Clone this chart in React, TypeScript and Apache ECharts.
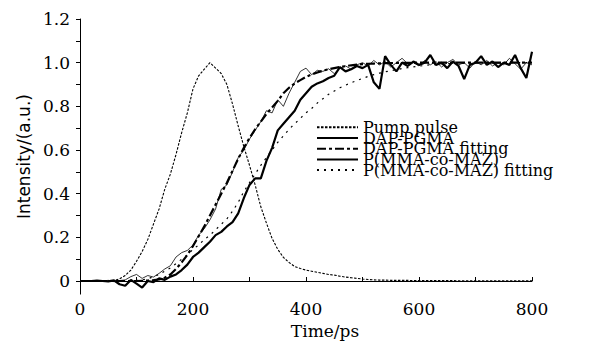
import { useEffect, useRef } from 'react';
import * as echarts from 'echarts';

const times = [
  0, 10, 20, 30, 40, 50, 60, 70, 80, 90,
  100, 110, 120, 130, 140, 150, 160, 170, 180, 190,
  200, 210, 220, 230, 240, 250, 260, 270, 280, 290,
  300, 310, 320, 330, 340, 350, 360, 370, 380, 390,
  400, 410, 420, 430, 440, 450, 460, 470, 480, 490,
  500, 510, 520, 530, 540, 550, 560, 570, 580, 590,
  600, 610, 620, 630, 640, 650, 660, 670, 680, 690,
  700, 710, 720, 730, 740, 750, 760, 770, 780, 790,
  800,
];

const pumpPulse = [
  0, 0, 0, 0, 0, 0, 0.002, 0.01, 0.025, 0.05,
  0.09, 0.135, 0.19, 0.26, 0.33, 0.42, 0.49, 0.58, 0.68, 0.77,
  0.88, 0.94, 0.97, 1.0, 0.975, 0.95, 0.9, 0.81, 0.71, 0.615,
  0.53, 0.44, 0.34, 0.265, 0.195, 0.145, 0.108, 0.085, 0.066, 0.057,
  0.05, 0.045, 0.04, 0.035, 0.03, 0.027, 0.022, 0.018, 0.015, 0.012,
  0.009, 0.007, 0.005, 0.004, 0.004, 0.003, 0.003, 0.003, 0.003, 0.002,
  0.002, 0.002, 0.002, 0.002, 0.002, 0.002, 0.002, 0.001, 0.001, 0.001,
  0.001, 0.001, 0.001, 0.001, 0.001, 0.001, 0.001, 0.001, 0.001, 0.001,
  0.001,
];

const dapPgma = [
  0, 0, 0.002, -0.002, 0, 0.003, -0.003, 0.002, 0.005, 0.02,
  0.03, 0.012, 0.025, 0.018, 0.035, 0.055, 0.07, 0.11, 0.13, 0.14,
  0.165, 0.21, 0.24, 0.28, 0.33, 0.42, 0.44, 0.5, 0.565, 0.6,
  0.65, 0.69, 0.73, 0.78, 0.77, 0.83, 0.8, 0.86, 0.91, 0.96,
  0.975, 0.945, 0.965, 0.96, 0.972, 0.95, 0.975, 0.985, 0.97, 0.99,
  1.0, 0.985, 1.01, 0.99, 1.005, 0.98, 1.0, 1.02, 0.995, 1.0,
  0.985, 1.01, 0.99, 1.005, 0.98, 1.0, 1.015, 0.99, 1.0, 0.975,
  1.005, 0.99, 1.01, 0.985, 1.0, 0.99, 1.02, 0.995, 0.97, 1.0,
  0.99,
];

const dapPgmaFit = [
  0, 0, 0, 0, 0, 0, 0, 0, 0, 0,
  0, 0.001, 0.002, 0.004, 0.007, 0.015, 0.03, 0.055, 0.085, 0.12,
  0.16, 0.205, 0.25, 0.3, 0.35, 0.4, 0.45, 0.505, 0.56, 0.61,
  0.655, 0.695, 0.73, 0.765, 0.795, 0.825, 0.86, 0.885, 0.905, 0.92,
  0.935, 0.946, 0.955, 0.963, 0.97, 0.975, 0.98, 0.984, 0.988, 0.991,
  0.993, 0.995, 0.996, 0.997, 0.998, 0.998, 0.999, 0.999, 0.999, 1.0,
  1.0, 1.0, 1.0, 1.0, 1.0, 1.0, 1.0, 1.0, 1.0, 1.0,
  1.0, 1.0, 1.0, 1.0, 1.0, 1.0, 1.0, 1.0, 1.0, 1.0,
  1.0,
];

const pmmaCoMaz = [
  0, 0, 0, 0.002, 0, -0.002, 0.003, -0.015, -0.022, 0.005,
  -0.012, -0.03, 0, -0.005, 0.012, 0.005, 0.02, 0.03, 0.05, 0.075,
  0.11, 0.13, 0.155, 0.18, 0.21, 0.225, 0.25, 0.27, 0.31, 0.38,
  0.44, 0.47, 0.47, 0.55, 0.61, 0.69, 0.72, 0.75, 0.78, 0.83,
  0.86, 0.89, 0.905, 0.915, 0.93, 0.94, 0.98, 0.96, 0.97, 0.985,
  0.975, 0.99, 0.91, 0.88, 1.03, 0.99, 0.96, 1.0, 0.985, 1.005,
  0.99, 1.0, 1.035, 0.99, 1.0, 0.975, 1.005, 0.985, 0.925, 0.99,
  1.0, 1.03, 0.99, 1.005, 0.98, 1.0, 0.99, 1.035, 0.975, 0.93,
  1.05,
];

const pmmaCoMazFit = [
  0, 0, 0, 0, 0, 0, 0, 0, 0, 0,
  0.002, 0.005, 0.01, 0.02, 0.03, 0.045, 0.06, 0.08, 0.1, 0.12,
  0.145, 0.165, 0.19, 0.21, 0.235, 0.26, 0.285, 0.32, 0.36, 0.41,
  0.45, 0.49, 0.53, 0.565, 0.6, 0.635, 0.665, 0.695, 0.72, 0.745,
  0.77, 0.79, 0.815, 0.835, 0.855, 0.87, 0.885, 0.897, 0.908, 0.918,
  0.928, 0.937, 0.945, 0.952, 0.958, 0.963, 0.968, 0.973, 0.977, 0.981,
  0.984, 0.987, 0.99, 0.992, 0.994, 0.995, 0.996, 0.997, 0.998, 0.998,
  0.999, 0.999, 0.999, 0.999, 0.999, 1.0, 1.0, 1.0, 1.0, 1.0,
  1.0,
];

const yLabelValues = [0, 0.2, 0.4, 0.6, 0.8, 1.0, 1.2];
const yTickValues = [0, 0.1, 0.2, 0.3, 0.4, 0.5, 0.6, 0.7, 0.8, 0.9, 1.0, 1.1, 1.2];

const seriesNames = [
  'Pump pulse',
  'DAP-PGMA',
  'DAP-PGMA fitting',
  'P(MMA-co-MAZ)',
  'P(MMA-co-MAZ) fitting',
];

export default function App() {
  const ref = useRef<HTMLDivElement>(null);

  useEffect(() => {
    if (!ref.current) return;
    const chart = echarts.init(ref.current, null, { renderer: 'svg' });
    const pair = (vals: number[]) => times.map((t, i) => [t, vals[i]]);
    const serif = 'DejaVu Serif';
    const base = {
      type: 'line',
      showSymbol: false,
      symbol: 'none',
      silent: true,
      color: '#000',
    };
    chart.setOption({
      animation: false,
      backgroundColor: '#fff',
      grid: { left: 80, right: 62, top: 19, bottom: 49, containLabel: false },
      legend: {
        orient: 'vertical',
        left: 316,
        top: 119.3,
        padding: 0,
        itemGap: -5.3,
        itemWidth: 41,
        itemHeight: 10,
        data: seriesNames,
        itemStyle: { opacity: 0, borderWidth: 0 },
        textStyle: { fontFamily: serif, fontSize: 16, color: '#000', lineHeight: 16 },
      },
      xAxis: {
        type: 'value',
        min: 0,
        max: 800,
        interval: 100,
        name: 'Time/ps',
        nameLocation: 'middle',
        nameGap: 22,
        nameTextStyle: { fontFamily: serif, fontSize: 17, color: '#000', padding: [0, 0, 0, 38] },
        axisLine: { show: true, lineStyle: { color: '#000', width: 1 } },
        axisTick: { show: true, inside: true, length: 4, lineStyle: { color: '#000' } },
        axisLabel: {
          margin: 6,
          fontFamily: serif,
          fontSize: 17,
          color: '#000',
          formatter: (v: number) => (v % 200 === 0 ? String(v) : ''),
        },
        splitLine: { show: false },
      },
      yAxis: {
        type: 'value',
        min: -0.06,
        max: 1.2,
        name: 'Intensity/(a.u.)',
        nameLocation: 'middle',
        nameGap: 48,
        nameTextStyle: { fontFamily: 'DejaVu Sans', fontSize: 17, color: '#000' },
        axisLine: { show: true, onZero: false, lineStyle: { color: '#000', width: 1 } },
        axisTick: {
          show: true,
          inside: false,
          length: 4,
          customValues: yTickValues,
          lineStyle: { color: '#000' },
        },
        axisLabel: {
          margin: 10,
          fontFamily: serif,
          fontSize: 17,
          color: '#000',
          customValues: yLabelValues,
          formatter: (v: number) => (Math.abs(v) < 1e-9 ? '0' : v.toFixed(1)),
        },
        splitLine: { show: false },
      },
      series: [
        {
          ...base,
          name: seriesNames[0],
          data: pair(pumpPulse),
          lineStyle: { color: '#000', width: 1.1, type: [2.5, 1.5] },
        },
        {
          ...base,
          name: seriesNames[1],
          data: pair(dapPgma),
          lineStyle: { color: '#000', width: 0.8, type: 'solid' },
        },
        {
          ...base,
          name: seriesNames[2],
          data: pair(dapPgmaFit),
          lineStyle: { color: '#000', width: 2.2, type: [9, 3, 3, 3] },
        },
        {
          ...base,
          name: seriesNames[3],
          data: pair(pmmaCoMaz),
          lineStyle: { color: '#000', width: 2.2, type: 'solid' },
        },
        {
          ...base,
          name: seriesNames[4],
          data: pair(pmmaCoMazFit),
          lineStyle: { color: '#000', width: 1.2, type: [2, 5] },
        },
      ],
    });
    return () => chart.dispose();
  }, []);

  return (
    <div
      ref={ref}
      style={{ position: 'fixed', left: 0, top: 0, width: 594, height: 344, background: '#fff' }}
    />
  );
}
